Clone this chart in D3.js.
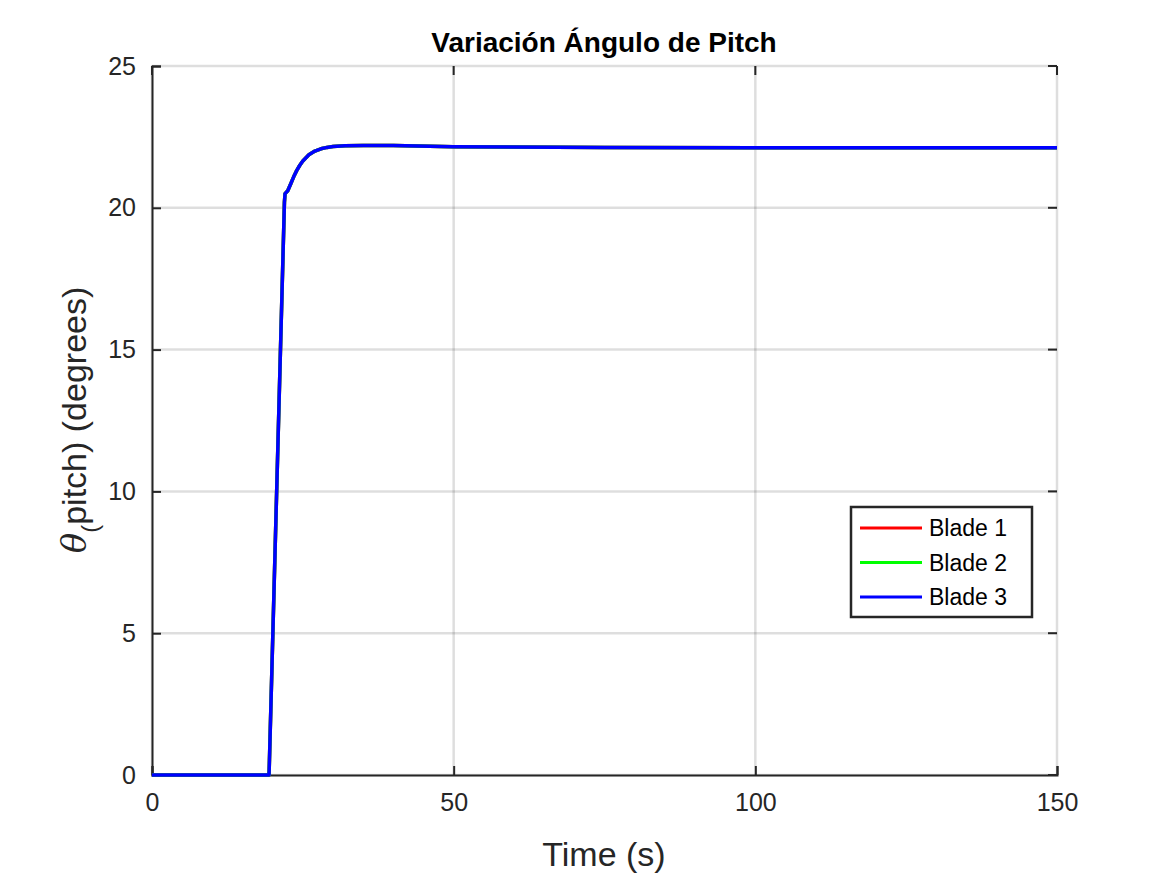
<!DOCTYPE html>
<html><head><meta charset="utf-8">
<script src="https://cdn.jsdelivr.net/npm/d3@7"></script>
<style>body{margin:0;background:#fff;} text{font-family:Helvetica,"Liberation Sans",Arial,sans-serif;}</style>
</head><body>
<script>
var timeS = [0, 19.4, 21.95, 22.05, 22.5, 23, 23.5, 24, 24.5, 25, 26, 27, 28, 29, 30, 32, 35, 40, 50, 75, 100, 150];
var blade1 = [0, 0, 20.2, 20.5, 20.6, 20.85, 21.1, 21.32, 21.5, 21.65, 21.87, 22.0, 22.08, 22.13, 22.16, 22.19, 22.2, 22.2, 22.15, 22.13, 22.12, 22.12];
var blade2 = blade1.slice();
var blade3 = blade1.slice();
var seriesNames = ["Blade 1", "Blade 2", "Blade 3"];
var seriesColors = ["#ff0000", "#00ff00", "#0000ff"];
var xTicks = [0, 50, 100, 150];
var yTicks = [0, 5, 10, 15, 20, 25];

var svg = d3.select("body").append("svg").attr("width", 1167).attr("height", 875);
var x = d3.scaleLinear().domain([0, 150]).range([152, 1057]);
var y = d3.scaleLinear().domain([0, 25]).range([775, 66]);

// grid
svg.append("g").selectAll("line").data(xTicks).enter().append("line")
  .attr("x1", d => x(d)).attr("x2", d => x(d)).attr("y1", 66).attr("y2", 775)
  .attr("stroke", "#000").attr("stroke-opacity", 0.13).attr("stroke-width", 2.5);
svg.append("g").selectAll("line").data(yTicks).enter().append("line")
  .attr("x1", 152).attr("x2", 1057).attr("y1", d => y(d)).attr("y2", d => y(d))
  .attr("stroke", "#000").attr("stroke-opacity", 0.13).attr("stroke-width", 2.5);

// axes
var xa = svg.append("g").attr("transform", "translate(0,775)")
  .call(d3.axisBottom(x).tickValues(xTicks).tickSize(-9).tickPadding(18).tickFormat(d3.format("d")));
var ya = svg.append("g").attr("transform", "translate(152,0)")
  .call(d3.axisLeft(y).tickValues(yTicks).tickSize(-9).tickPadding(16).tickFormat(d3.format("d")));
[xa, ya].forEach(function(a){
  a.attr("font-size", 25).attr("font-family", null);
  a.select(".domain").attr("stroke", "#262626").attr("stroke-width", 2);
  a.selectAll(".tick line").attr("stroke", "#262626").attr("stroke-width", 2);
  a.selectAll(".tick text").attr("fill", "#262626");
});
// top/right ticks
svg.append("g").selectAll("line").data(xTicks).enter().append("line")
  .attr("x1", d => x(d)).attr("x2", d => x(d)).attr("y1", 66).attr("y2", 75)
  .attr("stroke", "#262626").attr("stroke-width", 2);
svg.append("g").selectAll("line").data(yTicks).enter().append("line")
  .attr("x1", 1048).attr("x2", 1057).attr("y1", d => y(d)).attr("y2", d => y(d))
  .attr("stroke", "#262626").attr("stroke-width", 2);

var line = d3.line().x((d, i) => x(timeS[i])).y(d => y(d)).curve(d3.curveLinear);
[blade1, blade2, blade3].forEach(function(s, i){
  svg.append("path").attr("d", line(s)).attr("fill", "none")
    .attr("stroke", seriesColors[i]).attr("stroke-width", 3.5).attr("stroke-linejoin", "round");
});

// labels
svg.append("text").attr("x", 604).attr("y", 52).attr("text-anchor", "middle")
  .attr("font-size", 28).attr("font-weight", "bold").attr("fill", "#000").text("Variación Ángulo de Pitch");
svg.append("text").attr("x", 604).attr("y", 866).attr("text-anchor", "middle")
  .attr("font-size", 34).attr("fill", "#262626").text("Time (s)");
var yl = svg.append("text").attr("transform", "translate(86,420) rotate(-90)").attr("text-anchor", "middle")
  .attr("font-size", 34).attr("fill", "#262626");
yl.append("tspan").attr("font-family", "DejaVu Serif").attr("font-style", "italic").text("θ");
yl.append("tspan").attr("font-size", 24).attr("dy", 12).text("(");
yl.append("tspan").attr("dy", -12).text("pitch) (degrees)");

// legend
var lg = svg.append("g");
lg.append("rect").attr("x", 851).attr("y", 507).attr("width", 181).attr("height", 110)
  .attr("fill", "#fff").attr("stroke", "#262626").attr("stroke-width", 2.5);
seriesNames.forEach(function(n, i){
  var yy = 528 + i * 34.5;
  lg.append("line").attr("x1", 860).attr("x2", 922).attr("y1", yy).attr("y2", yy)
    .attr("stroke", seriesColors[i]).attr("stroke-width", 3);
  lg.append("text").attr("x", 929).attr("y", yy + 8).attr("font-size", 23).attr("fill", "#000").text(n);
});
</script>
</body></html>
